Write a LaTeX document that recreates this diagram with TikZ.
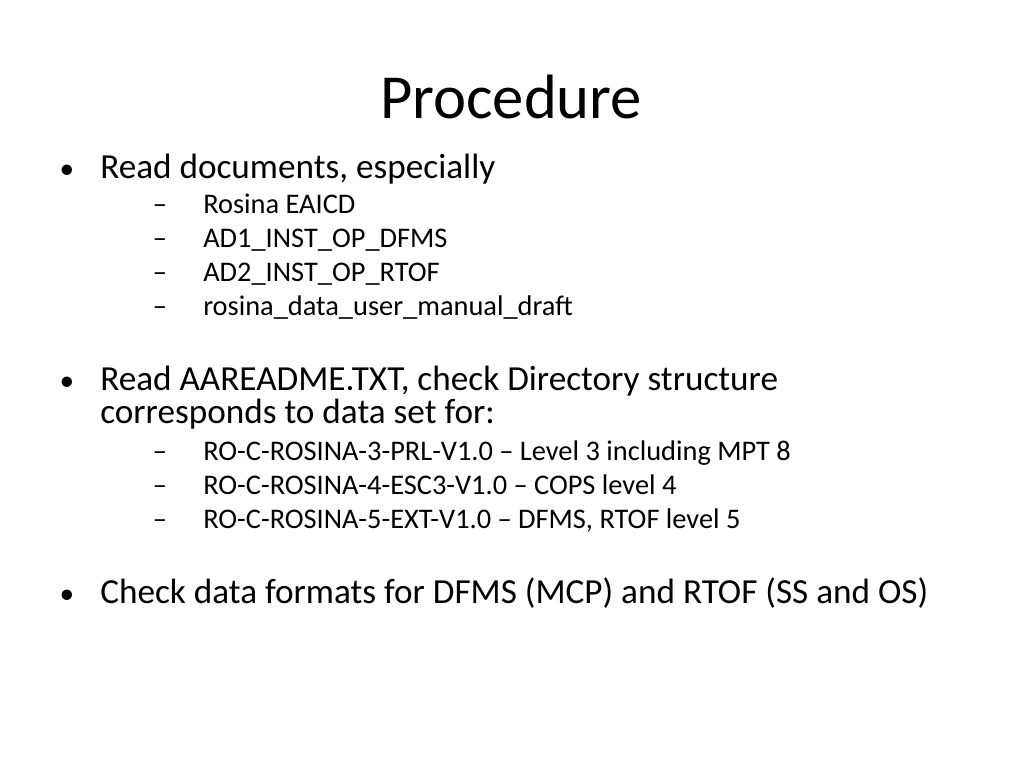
\documentclass[tikz,border=0pt]{standalone}
\usepackage{fontspec}
\setmainfont{Carlito}
\begin{document}
\begin{tikzpicture}[x=0.75pt,y=-0.75pt,
  big/.style={anchor=base west,inner sep=0pt,font=\fontsize{26.4}{32}\selectfont},
  small/.style={anchor=base west,inner sep=0pt,font=\fontsize{21.3}{26}\selectfont},
  bul/.style={anchor=base,inner sep=0pt,font=\fontsize{22}{26}\selectfont},
  dsh/.style={anchor=base,inner sep=0pt,font=\fontsize{21.3}{26}\selectfont}]
\useasboundingbox (0,0) rectangle (1024,768);
\node[anchor=base,inner sep=0pt,font=\fontsize{47}{56}\selectfont] (title) at (511,118) {Procedure};
\node[bul] (b1) at (67,178) {•};
\node[big] (t1) at (100,178) {Read documents, especially};
\foreach \y/\t [count=\i] in {213/Rosina EAICD,247/AD1\_INST\_OP\_DFMS,281/AD2\_INST\_OP\_RTOF,315/rosina\_data\_user\_manual\_draft}{
  \node[dsh] (da\i) at (160,\y) {–};
  \node[small] (sa\i) at (203,\y) {\t};
}
\node[bul] (b2) at (67,390) {•};
\node[big] (t2) at (100,390) {Read AAREADME.TXT, check Directory structure};
\node[big] (t2b) at (100,423) {corresponds to data set for:};
\foreach \y/\t [count=\i] in {460/RO-C-ROSINA-3-PRL-V1.0 – Level 3 including MPT 8,494/RO-C-ROSINA-4-ESC3-V1.0 – COPS level 4,528/RO-C-ROSINA-5-EXT-V1.0 – DFMS{,} RTOF level 5}{
  \node[dsh] (db\i) at (160,\y) {–};
  \node[small] (sb\i) at (203,\y) {\t};
}
\node[bul] (b3) at (67,603) {•};
\node[big] (t3) at (100,603) {Check data formats for DFMS (MCP) and RTOF (SS and OS)};
\end{tikzpicture}
\end{document}
